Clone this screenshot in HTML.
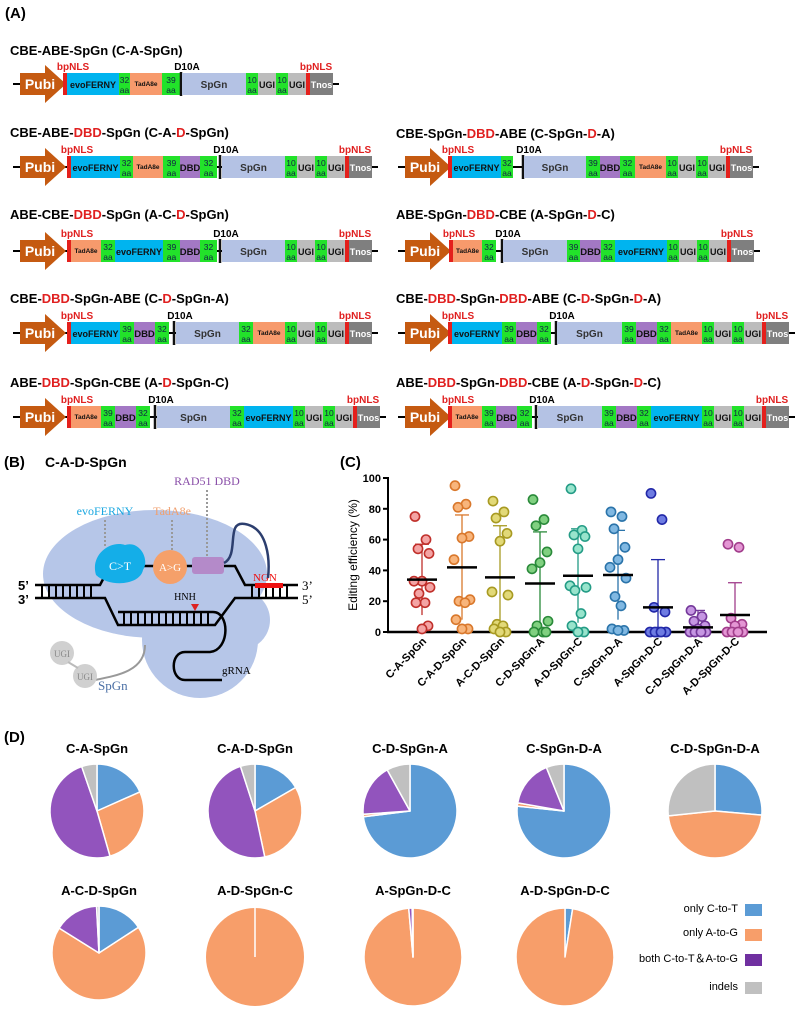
<!DOCTYPE html>
<html><head><meta charset="utf-8"><style>
html,body{margin:0;padding:0;background:#fff}
svg{display:block}
text{font-family:"Liberation Sans",sans-serif}
.serif{font-family:"Liberation Serif",serif}
</style></head><body>
<svg id="s" width="799" height="1013" viewBox="0 0 799 1013" xmlns="http://www.w3.org/2000/svg">
<rect width="799" height="1013" fill="#fff"/>
<text x="5" y="18" font-size="15" font-weight="bold">(A)</text>
<g>
<text x="4" y="467" font-size="15" font-weight="bold">(B)</text>
<text x="45" y="467" font-size="14" font-weight="bold">C-A-D-SpGn</text>
<ellipse cx="155" cy="574" rx="112" ry="64" fill="#b6c6e8"/>
<ellipse cx="200" cy="640" rx="58" ry="58" fill="#b6c6e8"/>
<ellipse cx="240" cy="620" rx="30" ry="30" fill="#b6c6e8"/>
<text x="207" y="485" class="serif" font-size="12" fill="#8a4fa8" text-anchor="middle">RAD51 DBD</text>
<text x="105" y="515" class="serif" font-size="12" fill="#1aa7e0" text-anchor="middle">evoFERNY</text>
<text x="172" y="515" class="serif" font-size="12" fill="#f0a070" text-anchor="middle">TadA8e</text>
<g stroke="#999" stroke-width="2" stroke-dasharray="2,2">
<line x1="105" y1="520" x2="105" y2="547"/><line x1="172" y1="520" x2="172" y2="552"/><line x1="207" y1="490" x2="207" y2="558"/></g>
<g fill="none" stroke="#000" stroke-width="2.5">
<path d="M35 585 H100 L110 566 H235 L245 585 H298"/>
<path d="M35 598 H105 L118 625 H215 L235 598 H298"/>
<path d="M118 612 H213 C230 612 230 650 210 652 H185 C170 652 170 680 185 680 H222"/>
</g>
<g stroke="#000" stroke-width="2">
<path d="M42 585V598M49 585V598M56 585V598M63 585V598M70 585V598M77 585V598M84 585V598M91 585V598"/>
<path d="M252 585V598M259 585V598M266 585V598M273 585V598M280 585V598M287 585V598"/>
<path d="M124 612V625M131 612V625M138 612V625M145 612V625M152 612V625M159 612V625M166 612V625M173 612V625M180 612V625M187 612V625M194 612V625M201 612V625M208 612V625"/>
</g>
<rect x="255" y="583" width="28" height="5" fill="#e11"/>
<text x="253" y="581" class="serif" font-size="11" fill="#e11">NGN</text>
<text x="18" y="590" font-size="13" font-weight="bold">5’</text>
<text x="18" y="604" font-size="13" font-weight="bold">3’</text>
<text x="302" y="590" class="serif" font-size="13">3’</text>
<text x="302" y="604" class="serif" font-size="13">5’</text>
<text x="185" y="600" class="serif" font-size="10" text-anchor="middle">HNH</text>
<path d="M191 604 L199 604 L195 611 Z" fill="#d22"/>
<path d="M96 575 C90 555 110 540 125 545 C140 540 150 560 143 570 C140 585 110 588 96 575 Z" fill="#14aee8"/>
<text x="120" y="570" class="serif" font-size="12" fill="#fff" text-anchor="middle">C&gt;T</text>
<circle cx="170" cy="567" r="17" fill="#f5a06a"/>
<text x="170" y="571" class="serif" font-size="11" fill="#fff" text-anchor="middle">A&gt;G</text>
<rect x="192" y="557" width="32" height="17" rx="3" fill="#b48ac9"/>
<path d="M224 563 C240 555 225 520 245 524 C268 528 270 560 268 578" fill="none" stroke="#2c3e6e" stroke-width="2.5"/>
<path d="M145 645 C145 670 120 675 95 680" fill="none" stroke="#999" stroke-width="2"/>
<circle cx="62" cy="653" r="12" fill="#d0d0d0"/><text x="62" y="657" class="serif" font-size="9" fill="#888" text-anchor="middle">UGI</text>
<circle cx="85" cy="676" r="12" fill="#d0d0d0"/><text x="85" y="680" class="serif" font-size="9" fill="#888" text-anchor="middle">UGI</text>
<line x1="68" y1="662" x2="78" y2="668" stroke="#bbb" stroke-width="2"/>
<text x="98" y="690" class="serif" font-size="13" fill="#4a6fa5">SpGn</text>
<text x="222" y="674" class="serif" font-size="11">gRNA</text>
</g>
<text x="340" y="467" font-size="15" font-weight="bold">(C)</text>
<g id="chart"></g>
<text x="4" y="742" font-size="15" font-weight="bold">(D)</text>
<g id="pies"></g>
<g font-size="11" text-anchor="end">
<text x="738" y="912">only C-to-T</text><rect x="745" y="904" width="17" height="12" fill="#5b9bd5"/>
<text x="738" y="936">only A-to-G</text><rect x="745" y="929" width="17" height="12" fill="#f79e6a"/>
<text x="738" y="962">both C-to-T＆A-to-G</text><rect x="745" y="954" width="17" height="12" fill="#7030a0"/>
<text x="738" y="990">indels</text><rect x="745" y="982" width="17" height="12" fill="#c0c0c0"/>
</g>
<g id="cons"></g>
</svg>
<script>
var NS="http://www.w3.org/2000/svg";
function el(p,t,a,txt){var e=document.createElementNS(NS,t);for(var k in a)e.setAttribute(k,a[k]);if(txt!=null)e.textContent=txt;p.appendChild(e);return e;}
var cons=document.getElementById("cons");
var col={r:"#e4201c",e:"#00b4ef",t:"#f79a6c",g:"#22e22a",d:"#a378c4",s:"#b4c2e4",u:"#bcbcbc",n:"#7f7f7f"};
function tail(a){return [[a,a+12,'10'],[a+12,a+30,'u'],[a+30,a+42,'10'],[a+42,a+60,'u'],[a+60,a+64,'r'],[a+64,a+87,'n']];}
var rows=[
{x0:20,c:84,ty:55,tx:10,title:[["CBE-ABE-SpGn (C-A-SpGn)",0]],segs:[[63,67,'r'],[67,119,'e'],[119,130,'32'],[130,162,'t'],[162,180,'39'],[181,0,'b'],[182,246,'s']].concat(tail(246))},
{x0:20,c:167,ty:137,tx:10,title:[["CBE-ABE-",0],["DBD",1],["-SpGn (C-A-",0],["D",1],["-SpGn)",0]],segs:[[67,71,'r'],[71,120,'e'],[120,133,'32'],[133,163,'t'],[163,180,'39'],[180,200,'d'],[200,217,'32'],[220,0,'b'],[222,285,'s']].concat(tail(285))},
{x0:20,c:251,ty:219,tx:10,title:[["ABE-CBE-",0],["DBD",1],["-SpGn (A-C-",0],["D",1],["-SpGn)",0]],segs:[[67,71,'r'],[71,101,'t'],[101,115,'32'],[115,163,'e'],[163,180,'39'],[180,200,'d'],[200,217,'32'],[220,0,'b'],[222,285,'s']].concat(tail(285))},
{x0:20,c:333,ty:303,tx:10,title:[["CBE-",0],["DBD",1],["-SpGn-ABE (C-",0],["D",1],["-SpGn-A)",0]],segs:[[67,71,'r'],[71,120,'e'],[120,134,'39'],[134,155,'d'],[155,169,'32'],[174,0,'b'],[176,239,'s'],[239,253,'32'],[253,285,'t']].concat(tail(285))},
{x0:20,c:417,ty:387,tx:10,title:[["ABE-",0],["DBD",1],["-SpGn-CBE (A-",0],["D",1],["-SpGn-C)",0]],segs:[[67,71,'r'],[71,101,'t'],[101,115,'39'],[115,136,'d'],[136,150,'32'],[155,0,'b'],[157,230,'s'],[230,244,'32'],[244,293,'e']].concat(tail(293))},
{x0:405,c:167,ty:138,tx:396,title:[["CBE-SpGn-",0],["DBD",1],["-ABE (C-SpGn-",0],["D",1],["-A)",0]],segs:[[448,452,'r'],[452,501,'e'],[501,513,'32'],[523,0,'b'],[524,586,'s'],[586,600,'39'],[600,620,'d'],[620,635,'32'],[635,666,'t']].concat(tail(666))},
{x0:405,c:251,ty:219,tx:396,title:[["ABE-SpGn-",0],["DBD",1],["-CBE (A-SpGn-",0],["D",1],["-C)",0]],segs:[[449,453,'r'],[453,482,'t'],[482,496,'32'],[502,0,'b'],[503,567,'s'],[567,580,'39'],[580,601,'d'],[601,615,'32'],[615,667,'e']].concat(tail(667))},
{x0:405,c:333,ty:303,tx:396,title:[["CBE-",0],["DBD",1],["-SpGn-",0],["DBD",1],["-ABE (C-",0],["D",1],["-SpGn-",0],["D",1],["-A)",0]],segs:[[448,452,'r'],[452,502,'e'],[502,516,'39'],[516,537,'d'],[537,551,'32'],[556,0,'b'],[557,622,'s'],[622,636,'39'],[636,657,'d'],[657,671,'32'],[671,702,'t']].concat(tail(702))},
{x0:405,c:417,ty:387,tx:396,title:[["ABE-",0],["DBD",1],["-SpGn-",0],["DBD",1],["-CBE (A-",0],["D",1],["-SpGn-",0],["D",1],["-C)",0]],segs:[[448,452,'r'],[452,482,'t'],[482,496,'39'],[496,517,'d'],[517,532,'32'],[536,0,'b'],[538,602,'s'],[602,616,'39'],[616,637,'d'],[637,651,'32'],[651,702,'e']].concat(tail(702))}
];
rows.forEach(function(R){
 var c=R.c;
 var t=el(cons,"text",{x:R.tx,y:R.ty,"font-size":13,"font-weight":"bold"});
 R.title.forEach(function(p){el(t,"tspan",{fill:p[1]?"#e02020":"#000"},p[0]);});
 var last=R.segs[R.segs.length-1][1];
 el(cons,"line",{x1:R.x0-7,y1:c,x2:last+6,y2:c,stroke:"#000","stroke-width":2});
 var x0=R.x0;
 el(cons,"path",{d:"M"+x0+" "+(c-11)+"H"+(x0+25)+"V"+(c-19)+"L"+(x0+46)+" "+c+"L"+(x0+25)+" "+(c+19)+"V"+(c+11)+"H"+x0+"Z",fill:"#c55a11"});
 el(cons,"text",{x:x0+20,y:c+5,"font-size":14,"font-weight":"bold",fill:"#fff","text-anchor":"middle"},"Pubi");
 var reds=[];
 R.segs.forEach(function(s){
  var a=s[0],b=s[1],ty=s[2];
  if(ty=='b'){el(cons,"line",{x1:a,y1:c-12,x2:a,y2:c+12,stroke:"#111","stroke-width":2.5});
    el(cons,"text",{x:a+6,y:c-14,"font-size":10,"font-weight":"bold","text-anchor":"middle"},"D10A");return;}
  var f=col[ty]||col.g;
  el(cons,"rect",{x:a,y:c-11,width:b-a,height:22,fill:f});
  var m=(a+b)/2;
  if(ty=='r'){reds.push(m);return;}
  if(ty=='32'||ty=='39'||ty=='10'){
   el(cons,"text",{x:m,y:c-1,"font-size":8.5,"text-anchor":"middle",fill:"#124"},ty);
   el(cons,"text",{x:m,y:c+9,"font-size":8.5,"text-anchor":"middle",fill:"#124"},"aa");return;}
  var lab={e:"evoFERNY",t:"TadA8e",d:"DBD",s:"SpGn",u:"UGI",n:"Tnos"}[ty];
  var fs={e:9,t:6.5,d:9.5,s:10,u:9,n:9}[ty];
  el(cons,"text",{x:m,y:c+(ty=='t'?2:4),"font-size":fs,"font-weight":"bold","text-anchor":"middle",fill:ty=='n'?"#fff":(ty=='s'?"#333":"#111")},lab);
 });
 reds.forEach(function(m){el(cons,"text",{x:m+8,y:c-14,"font-size":10,"font-weight":"bold",fill:"#e02020","text-anchor":"middle"},"bpNLS");});
});
var ch=document.getElementById("chart");
function Y(v){return 632-v*1.54;}
el(ch,"line",{x1:388,y1:477,x2:388,y2:633,stroke:"#000","stroke-width":2});
el(ch,"line",{x1:387,y1:632,x2:767,y2:632,stroke:"#000","stroke-width":2.5});
for(var v=0;v<=100;v+=20){el(ch,"line",{x1:383,y1:Y(v),x2:388,y2:Y(v),stroke:"#000","stroke-width":2});
 el(ch,"text",{x:381,y:Y(v)+4,"font-size":11,"font-weight":"bold","text-anchor":"end"},String(v));}
el(ch,"text",{x:0,y:0,"font-size":12,"text-anchor":"middle",transform:"translate(357,555) rotate(-90)"},"Editing efficiency (%)");
var groups=[
["C-A-SpGn",422,"#c0302b","#f4a4a4",[75,60,54,51,33,33,29,25,19,19,4,2],34,57,11],
["C-A-D-SpGn",462,"#d9782c","#f8b57c",[95,83,81,62,61,47,21,20,19,8,2,2],42,76,8],
["A-C-D-SpGn",500,"#a89a22","#e2d978",[85,78,74,64,59,26,24,5,4,2,0,0],35.5,69,2],
["C-D-SpGn-A",540,"#2a8a3a","#80d080",[86,73,69,52,45,41,7,4,0,0,0],31.5,65,0],
["A-D-SpGn-C",578,"#249c86","#98e4cc",[93,66,63,62,54,30,29,27,12,4,0,0],36.5,67,6],
["C-SpGn-D-A",618,"#2b74aa","#80b8e2",[78,75,67,55,47,42,35,23,17,2,1,1],37,66,8],
["A-SpGn-D-C",658,"#2228a8","#6e7ce2",[90,73,16,13,0,0,0,0,0],16,47,0],
["C-D-SpGn-D-A",698,"#74389a","#c596e2",[14,10,7,4,2,0,0,0,0],3,14,0],
["A-D-SpGn-D-C",735,"#a23e8c","#e496d4",[57,55,9,5,4,0,0,0,0],11,32,0]];
groups.forEach(function(g){
 var x=g[1];
 el(ch,"line",{x1:x,y1:Y(g[6]),x2:x,y2:Y(g[7]),stroke:g[2],"stroke-width":1.3});
 el(ch,"line",{x1:x-7,y1:Y(g[6]),x2:x+7,y2:Y(g[6]),stroke:g[2],"stroke-width":1.3});
 g[4].forEach(function(v,i){var off=[-7,4,-4,7,0,-8,8,-3,3,-6,6,0][i%12];
  el(ch,"circle",{cx:x+off,cy:Y(v),r:4.6,fill:g[3],stroke:g[2],"stroke-width":1.6});});
 el(ch,"line",{x1:x-15,y1:Y(g[5]),x2:x+15,y2:Y(g[5]),stroke:"#000","stroke-width":2.5});
 el(ch,"text",{x:0,y:0,"font-size":11,"font-weight":"bold","text-anchor":"end",transform:"translate("+(x+5)+",642) rotate(-45)"},g[0]);
});
var pg=document.getElementById("pies");
var C={b:"#5b9bd5",o:"#f79e6a",p:"#9254bd",g:"#c0c0c0"};
function pt(cx,cy,r,a){var t=(a-90)*Math.PI/180;return [cx+r*Math.cos(t),cy+r*Math.sin(t)];}
function pie(cx,cy,r,title,sl,ty){
 el(pg,"text",{x:cx,y:ty,"font-size":13,"font-weight":"bold","text-anchor":"middle"},title);
 var a=0;
 sl.forEach(function(s){var b=s[1];
  if(b-a>=359.9){el(pg,"circle",{cx:cx,cy:cy,r:r,fill:C[s[0]]});}
  else{var p1=pt(cx,cy,r,a),p2=pt(cx,cy,r,b);
  el(pg,"path",{d:"M"+cx+" "+cy+"L"+p1[0]+" "+p1[1]+"A"+r+" "+r+" 0 "+((b-a)>180?1:0)+" 1 "+p2[0]+" "+p2[1]+"Z",fill:C[s[0]],stroke:"#fff","stroke-width":1.5,"stroke-linejoin":"round"});}
  a=b;});
}
pie(97,811,47,"C-A-SpGn",[["b",66],["o",164],["p",341],["g",360]],753);
pie(255,811,47,"C-A-D-SpGn",[["b",60],["o",168],["p",342],["g",360]],753);
pie(410,811,47,"C-D-SpGn-A",[["b",263],["o",266],["p",331],["g",360]],753);
pie(564,811,47,"C-SpGn-D-A",[["b",276],["o",280],["p",338],["g",360]],753);
pie(715,811,47,"C-D-SpGn-D-A",[["b",95],["o",264],["g",360]],753);
pie(99,953,47,"A-C-D-SpGn",[["b",57],["o",302],["p",357],["g",360]],895);
pie(255,957,49,"A-D-SpGn-C",[["o",359.99]],895);
el(pg,"line",{x1:255,y1:957,x2:255,y2:908,stroke:"#fff","stroke-width":1.5});
pie(413,957,49,"A-SpGn-D-C",[["o",355],["p",359],["o",360]],895);
pie(565,957,49,"A-D-SpGn-D-C",[["b",9],["o",360]],895);
</script>
</body></html>
